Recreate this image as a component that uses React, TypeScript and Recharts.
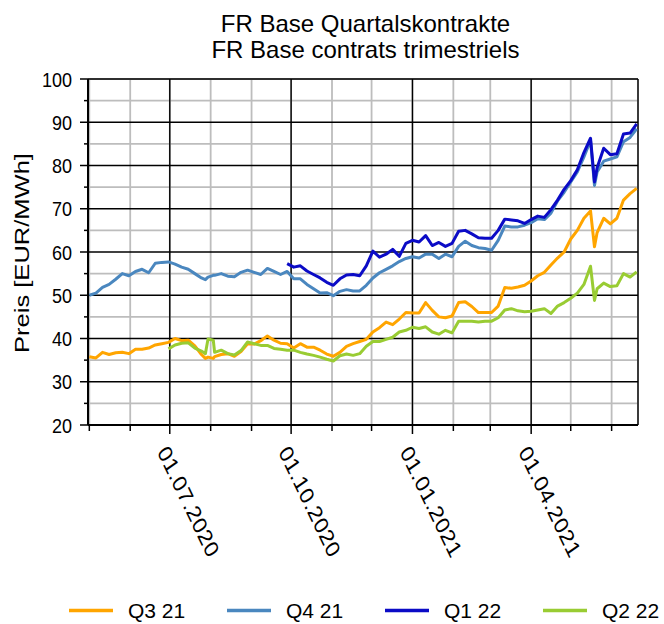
import { LineChart, Line, XAxis, YAxis, CartesianGrid } from "recharts";

// trading dates (sampled), ISO format
const dates = [
  "2020-05-01", "2020-05-06", "2020-05-11", "2020-05-16", "2020-05-21", "2020-05-26", "2020-05-31",
  "2020-06-05", "2020-06-10", "2020-06-15", "2020-06-20", "2020-06-25", "2020-06-30",
  "2020-07-05", "2020-07-10", "2020-07-15", "2020-07-20", "2020-07-25", "2020-07-28", "2020-07-30",
  "2020-08-03", "2020-08-04", "2020-08-09", "2020-08-14", "2020-08-19", "2020-08-24", "2020-08-29",
  "2020-09-03", "2020-09-08", "2020-09-13", "2020-09-18", "2020-09-23", "2020-09-28",
  "2020-10-03", "2020-10-08", "2020-10-13", "2020-10-18", "2020-10-23", "2020-10-28",
  "2020-11-02", "2020-11-07", "2020-11-12", "2020-11-17", "2020-11-22", "2020-11-27",
  "2020-12-02", "2020-12-07", "2020-12-12", "2020-12-17", "2020-12-22", "2020-12-27",
  "2021-01-01", "2021-01-06", "2021-01-11", "2021-01-16", "2021-01-21", "2021-01-26", "2021-01-31",
  "2021-02-05", "2021-02-10", "2021-02-15", "2021-02-20", "2021-02-25",
  "2021-03-02", "2021-03-07", "2021-03-12", "2021-03-17", "2021-03-22", "2021-03-27",
  "2021-04-01", "2021-04-06", "2021-04-11", "2021-04-16", "2021-04-21", "2021-04-26",
  "2021-05-01", "2021-05-06", "2021-05-11", "2021-05-16", "2021-05-19", "2021-05-21", "2021-05-26", "2021-05-31",
  "2021-06-05", "2021-06-10", "2021-06-15", "2021-06-20",
];

const q321 = [
  35.8, 35.5, 36.8, 36.3, 36.7, 36.8, 36.5,
  37.5, 37.5, 37.8, 38.5, 38.8, 39.1,
  40.0, 39.5, 39.6, 38.3, 36.3, 35.4, 35.7,
  35.4, 35.8, 36.3, 36.5, 35.9, 37.0, 38.8,
  38.7, 39.5, 40.6, 39.6, 38.9, 38.8,
  37.8, 38.8, 38.0, 38.0, 37.3, 36.4,
  35.9, 36.8, 38.2, 38.8, 39.3, 39.8,
  41.5, 42.5, 43.8, 43.2, 44.5, 46.0,
  45.9, 45.9, 48.3, 46.5, 45.0, 44.8, 45.2,
  48.3, 48.5, 47.4, 46.0, 46.0,
  46.0, 47.5, 51.8, 51.6, 51.9, 52.3,
  53.3, 54.5, 55.3, 57.0, 58.6, 60.0,
  63.0, 65.0, 67.8, 69.5, 61.2, 64.5, 67.8, 66.5,
  67.8, 72.0, 73.5, 74.7,
];

const q421 = [
  50.0, 50.5, 51.8, 52.5, 53.7, 55.0, 54.5,
  55.5, 56.0, 55.2, 57.4, 57.6, 57.7,
  57.2, 56.5, 56.0, 55.0, 54.0, 53.6, 54.2,
  54.6, 54.6, 55.0, 54.4, 54.3, 55.3, 55.8,
  55.3, 54.8, 56.2, 55.5, 54.8, 55.5,
  53.8, 53.8, 52.5, 51.5, 50.5, 50.6,
  49.9, 50.9, 51.3, 51.0, 51.0, 52.3,
  54.0, 55.2, 56.0, 56.8, 57.8, 58.5,
  58.9, 58.6, 59.5, 59.5, 58.5, 59.5, 58.9,
  61.3, 62.5, 61.5, 61.0, 60.8,
  60.4, 62.7, 66.0, 65.8, 65.8, 66.2,
  66.8, 67.7, 67.5, 69.0, 71.8, 73.8,
  76.2, 78.5, 82.0, 85.8, 75.4, 78.5, 81.0, 81.5,
  82.0, 85.5, 86.5, 88.5,
];

const q122 = [
  null, null, null, null, null, null, null,
  null, null, null, null, null, null,
  null, null, null, null, null, null, null,
  null, null, null, null, null, null, null,
  null, null, null, null, null, 57.3,
  56.5, 56.8, 55.6, 54.8, 54.0, 53.0,
  52.3, 53.8, 54.7, 54.8, 54.5, 56.8,
  60.2, 58.8, 59.5, 60.6, 59.0, 62.0,
  62.7, 62.3, 63.8, 61.5, 62.2, 61.3, 62.0,
  64.8, 65.0, 64.2, 63.3, 63.2,
  63.2, 65.0, 67.6, 67.4, 67.2, 66.6,
  67.5, 68.3, 68.0, 69.8, 72.0, 74.5,
  76.5, 79.0, 83.0, 86.3, 76.2, 79.5, 84.0, 82.5,
  82.7, 87.3, 87.5, 89.6,
];

const q222 = [
  null, null, null, null, null, null, null,
  null, null, null, null, null, 37.6,
  38.5, 38.9, 39.0, 37.8, 37.1, 36.5, 39.9,
  39.6, 36.8, 37.3, 36.5, 36.2, 37.2, 39.2,
  38.8, 38.4, 38.4, 37.7, 37.5, 37.3,
  37.3, 36.8, 36.4, 36.1, 35.7, 35.2,
  34.8, 36.0, 36.4, 36.1, 36.5, 38.2,
  39.3, 39.3, 39.8, 40.3, 41.5, 41.9,
  42.6, 42.3, 42.7, 41.5, 41.0, 41.9, 41.3,
  44.0, 44.0, 44.0, 43.8, 44.0,
  44.0, 44.8, 46.6, 46.9, 46.4, 46.2,
  46.3, 46.6, 46.9, 45.8, 47.5, 48.3,
  49.3, 50.5, 52.5, 56.7, 48.8, 51.5, 52.8, 52.0,
  52.2, 55.0, 54.2, 55.4,
];

const seriesKeys = ["q321", "q421", "q122", "q222"];
const seriesNames = ["Q3 21", "Q4 21", "Q1 22", "Q2 22"];
const seriesColors = ["#FFA500", "#4A87BF", "#0B0BC6", "#99CC33"];
const seriesValues = [q321, q421, q122, q222];

const xStart = "2020-04-30";
const xEnd = "2021-06-21";
const monthTicks = [
  "2020-05-01", "2020-06-01", "2020-07-01", "2020-08-01", "2020-09-01", "2020-10-01", "2020-11-01",
  "2020-12-01", "2021-01-01", "2021-02-01", "2021-03-01", "2021-04-01", "2021-05-01", "2021-06-01",
];
const quarterTicks = ["2020-07-01", "2020-10-01", "2021-01-01", "2021-04-01"];
const quarterLabels = ["01.07.2020", "01.10.2020", "01.01.2021", "01.04.2021"];

const yMajor = [20, 30, 40, 50, 60, 70, 80, 90, 100];
const yMinor = [25, 35, 45, 55, 65, 75, 85, 95];
const yAll = [20, 25, 30, 35, 40, 45, 50, 55, 60, 65, 70, 75, 80, 85, 90, 95, 100];

const FONT = '"Liberation Sans", Arial, sans-serif';

const ts = (s: string) => Date.parse(s);
const xDomain = [ts(xStart), ts(xEnd)];
const monthTs = monthTicks.map(ts);
const quarterTs = quarterTicks.map(ts);

const rows = dates.map((d, i) => {
  const row: Record<string, number | null> = { t: ts(d) };
  seriesKeys.forEach((k, j) => {
    row[k] = seriesValues[j][i];
  });
  return row;
});

function DateTick({ x, y, payload }: any) {
  const qi = quarterTs.indexOf(payload.value);
  const major = qi >= 0;
  return (
    <g>
      <line x1={x} x2={x} y1={y} y2={y + (major ? 9 : 6)} stroke="#000" strokeWidth={1.5} />
      {major && (
        <g transform={`translate(${x - 7},${y + 23}) scale(1,1.2) rotate(60)`}>
          <text x={0} y={0} dy="0.35em" fontSize={20} letterSpacing={0.3} fill="#000" fontFamily={FONT}>
            {quarterLabels[qi]}
          </text>
        </g>
      )}
    </g>
  );
}

function PriceTick({ x, y, payload }: any) {
  const major = yMajor.includes(payload.value);
  return (
    <g>
      <line x1={x - (major ? 8 : 4)} x2={x} y1={y} y2={y} stroke="#000" strokeWidth={1.5} />
      {major && (
        <g transform={`translate(${x - 16},${y}) scale(1,1.16)`}>
          <text x={0} y={0} dy="0.36em" textAnchor="end" fontSize={18} fill="#000" fontFamily={FONT}>
            {payload.value}
          </text>
        </g>
      )}
    </g>
  );
}

export default function App() {
  const legendX = [69, 227, 385, 543];
  return (
    <div style={{ position: "absolute", left: 0, top: 0, width: 664, height: 624, background: "#fff" }}>
      <LineChart
        width={664}
        height={624}
        data={rows}
        margin={{ top: 79, right: 26, bottom: 198, left: 87 }}
      >
        <XAxis xAxisId="month" dataKey="t" type="number" domain={xDomain} allowDataOverflow ticks={monthTs} interval={0} hide />
        <XAxis xAxisId="quarter" dataKey="t" type="number" domain={xDomain} allowDataOverflow ticks={quarterTs} interval={0} hide />
        <YAxis yAxisId="half" type="number" domain={[20, 100]} allowDataOverflow ticks={yMinor} interval={0} hide />
        <YAxis yAxisId="ten" type="number" domain={[20, 100]} allowDataOverflow ticks={yMajor} interval={0} hide />
        <CartesianGrid xAxisId="month" yAxisId="half" stroke="#BDBDBD" strokeWidth={1.8} />
        <CartesianGrid xAxisId="quarter" yAxisId="ten" stroke="#000" strokeWidth={1.4} />
        <XAxis
          dataKey="t"
          type="number"
          domain={xDomain}
          allowDataOverflow
          ticks={monthTs}
          interval={0}
          height={1}
          tickSize={0}
          tickMargin={0}
          tickLine={false}
          tick={<DateTick />}
          axisLine={{ stroke: "#000", strokeWidth: 2 }}
        />
        <YAxis
          type="number"
          domain={[20, 100]}
          allowDataOverflow
          ticks={yAll}
          interval={0}
          width={1}
          tickSize={0}
          tickMargin={0}
          tickLine={false}
          tick={<PriceTick />}
          axisLine={{ stroke: "#000", strokeWidth: 2 }}
        />
        {seriesKeys.map((k, j) => (
          <Line
            key={k}
            dataKey={k}
            name={seriesNames[j]}
            type="linear"
            stroke={seriesColors[j]}
            strokeWidth={3}
            strokeLinejoin="round"
            dot={false}
            activeDot={false}
            connectNulls={false}
            isAnimationActive={false}
          />
        ))}
      </LineChart>
      <svg
        width={664}
        height={624}
        style={{ position: "absolute", left: 0, top: 0, pointerEvents: "none" }}
        fontFamily={FONT}
      >
        <text x={365.5} y={31.5} textAnchor="middle" fontSize={24} fill="#000">
          FR Base Quartalskontrakte
        </text>
        <text x={365.5} y={58} textAnchor="middle" fontSize={24} fill="#000">
          FR Base contrats trimestriels
        </text>
        <g transform="translate(28.5,253) scale(1,1.216) rotate(-90)">
          <text x={0} y={0} textAnchor="middle" fontSize={21} fill="#000">
            Preis [EUR/MWh]
          </text>
        </g>
        {seriesNames.map((n, j) => (
          <g key={n}>
            <line x1={legendX[j]} x2={legendX[j] + 44} y1={610.5} y2={610.5} stroke={seriesColors[j]} strokeWidth={3.5} />
            <text x={legendX[j] + 59} y={618} fontSize={21} fill="#000">
              {n}
            </text>
          </g>
        ))}
      </svg>
    </div>
  );
}
